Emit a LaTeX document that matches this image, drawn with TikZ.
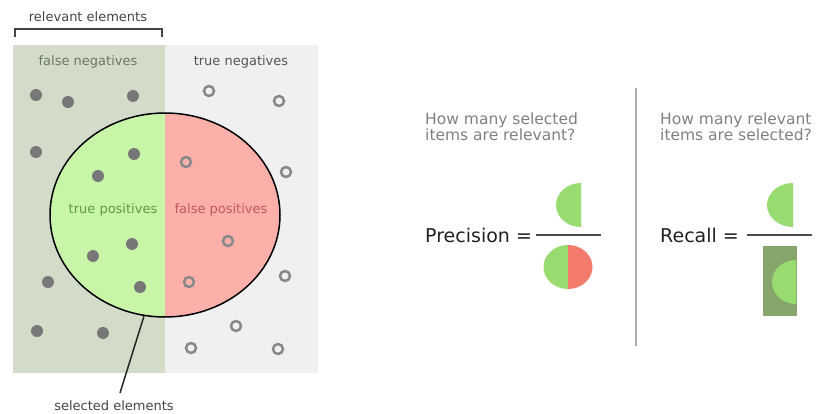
\documentclass[tikz,border=0pt]{standalone}
\usepackage{fontspec}
\setmainfont{DejaVu Sans}
\definecolor{relbg}{HTML}{D2DCC8}
\definecolor{negbg}{HTML}{F0F0F0}
\definecolor{tpfill}{HTML}{C9F5A9}
\definecolor{fpfill}{HTML}{FDB0AA}
\definecolor{dotc}{HTML}{777777}
\definecolor{ringc}{HTML}{888888}
\definecolor{smallgreen}{HTML}{98DB70}
\definecolor{smallred}{HTML}{F27B6C}
\definecolor{darkgreen}{HTML}{86A56B}
\definecolor{labgray}{HTML}{444444}
\definecolor{fntext}{HTML}{6A7A60}
\definecolor{tntext}{HTML}{555555}
\definecolor{tptext}{HTML}{5C9A48}
\definecolor{fptext}{HTML}{C05A5A}
\definecolor{qtext}{HTML}{808080}
\tikzset{
  lab/.style={font=\fontsize{13}{15}\selectfont, inner sep=0pt},
  qlab/.style={font=\fontsize{15.5}{16}\selectfont, text=qtext, align=left, anchor=west, inner sep=0pt},
  eqlab/.style={font=\fontsize{19}{22}\selectfont, text=black!87, anchor=west, inner sep=0pt},
  fulldot/.style={circle, fill=dotc, minimum size=12pt, inner sep=0pt},
  ringdot/.style={circle, draw=ringc, line width=2.5pt, minimum size=10pt, inner sep=0pt},
  fracline/.style={line width=2pt, draw=black!70},
}
\begin{document}
\begin{tikzpicture}[x=1pt,y=-1pt]
\useasboundingbox (0,0) rectangle (819,414);
% backgrounds
\fill[relbg] (13,45) rectangle (165,373);
\fill[negbg] (165,45) rectangle (318,373);
% ellipse halves
\begin{scope}
  \clip (13,0) rectangle (165,414);
  \fill[tpfill] (165,215) ellipse [x radius=115, y radius=102];
\end{scope}
\begin{scope}
  \clip (165,0) rectangle (318,414);
  \fill[fpfill] (165,215) ellipse [x radius=115, y radius=102];
\end{scope}
\draw[line width=1.5pt] (165,215) ellipse [x radius=115, y radius=102];
% bracket
\draw[labgray, line width=1.5pt] (15,37) -- (15,29) -- (162,29) -- (162,37);
\node[lab, text=labgray] (rel) at (88,17) {relevant elements};
\node[lab, text=fntext] (fn) at (88,62) {false negatives};
\node[lab, text=tntext] (tn) at (241,62) {true negatives};
\node[lab, text=tptext] (tp) at (113,210) {true positives};
\node[lab, text=fptext] (fp) at (221,210) {false positives};
\node[lab, text=labgray] (sel) at (114,406) {selected elements};
\coordinate (selend) at (120,393);
\coordinate (ellbot) at (144,316);
\draw[line width=1.5pt, black!85] (ellbot) -- (selend);
% filled dots
\foreach \i/\p in {1/{(36,95)},2/{(68,102)},3/{(133,96)},4/{(36,152)},5/{(134,154)},6/{(98,176)},7/{(132,244)},8/{(93,256)},9/{(48,282)},10/{(140,287)},11/{(37,331)},12/{(103,333)}}
  \node[fulldot] (d\i) at \p {};
% rings
\foreach \i/\p in {1/{(209,91)},2/{(279,101)},3/{(186,162)},4/{(286,172)},5/{(228,241)},6/{(189,282)},7/{(285,276)},8/{(236,326)},9/{(191,348)},10/{(278,349)}}
  \node[ringdot] (r\i) at \p {};
% separator
\coordinate (septop) at (636,88);
\coordinate (sepbot) at (636,346);
\draw[line width=2pt, black!32] (septop) -- (sepbot);
% precision
\node[qlab] (q1) at (425,127) {How many selected\\items are relevant?};
\node[eqlab] (prec) at (425,235) {Precision =};
\coordinate (pl1) at (536,235);
\coordinate (pl2) at (601,235);
\draw[fracline] (pl1) -- (pl2);
\fill[smallgreen] (581,183) arc[start angle=270, end angle=90, x radius=25, y radius=22] -- cycle;
\fill[smallgreen] (568,245) arc[start angle=270, end angle=90, x radius=24.5, y radius=22] -- cycle;
\fill[smallred] (568,245) arc[start angle=270, end angle=450, x radius=24.5, y radius=22] -- cycle;
% recall
\node[qlab] (q2) at (660,127) {How many relevant\\items are selected?};
\node[eqlab] (rec) at (660,235) {Recall =};
\coordinate (rl1) at (747,235);
\coordinate (rl2) at (812,235);
\draw[fracline] (rl1) -- (rl2);
\fill[smallgreen] (793,183) arc[start angle=270, end angle=90, x radius=26, y radius=22] -- cycle;
\fill[darkgreen] (763,246) rectangle (797,316);
\fill[smallgreen] (796,260) arc[start angle=270, end angle=90, x radius=24, y radius=22] -- cycle;
\end{tikzpicture}
\end{document}
